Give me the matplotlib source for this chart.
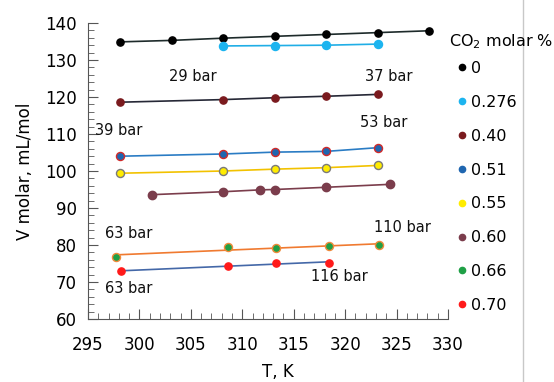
import numpy as np
import matplotlib
matplotlib.use("Agg")
import matplotlib.pyplot as plt
from matplotlib.lines import Line2D
from matplotlib.ticker import MultipleLocator

# ---- data ----
series_labels = ["0", "0.276", "0.40", "0.51", "0.55", "0.60", "0.66", "0.70"]
T_0 = [298.15, 303.15, 308.15, 313.15, 318.15, 323.15, 328.15]
V_0 = [134.9, 135.3, 135.9, 136.4, 136.9, 137.4, 137.9]
T_0276 = [308.15, 313.15, 318.15, 323.15]
V_0276 = [133.8, 133.9, 134.0, 134.3]
T_040 = [298.15, 308.15, 313.15, 318.15, 323.15]
V_040 = [118.6, 119.3, 119.8, 120.2, 120.7]
T_051 = [298.15, 308.15, 313.15, 318.15, 323.15]
V_051 = [104.0, 104.6, 105.1, 105.3, 106.3]
T_055 = [298.15, 308.15, 313.15, 318.15, 323.15]
V_055 = [99.4, 100.0, 100.5, 100.9, 101.5]
T_060 = [301.2, 308.15, 311.7, 313.15, 318.15, 324.4]
V_060 = [93.6, 94.4, 94.9, 95.0, 95.6, 96.4]
T_066 = [297.7, 308.6, 313.3, 318.4, 323.3]
V_066 = [76.8, 79.5, 79.3, 79.6, 80.0]
T_070 = [298.2, 308.6, 313.3, 318.4]
V_070 = [72.9, 74.4, 75.1, 75.2]

annotations = ["29 bar", "37 bar", "39 bar", "53 bar", "63 bar", "63 bar", "110 bar", "116 bar"]
ann_T = [305.2, 324.2, 298.0, 323.7, 299.0, 299.0, 325.6, 319.4]
ann_V = [125.6, 125.6, 111.0, 113.0, 83.2, 68.3, 84.6, 71.5]

# ---- styles ----
styles = [
    dict(mfc="#000000", mec="#000000", lc="#1e2b2b", ms=5.2),
    dict(mfc="#1cb4ef", mec="#1cb4ef", lc="#20aee6", ms=5.8),
    dict(mfc="#7a1a1e", mec="#7a1a1e", lc="#262836", ms=5.2),
    dict(mfc="#1f66b0", mec="#d02a2a", lc="#2a7cc4", ms=5.8),
    dict(mfc="#ffec00", mec="#7a7a7a", lc="#f2c200", ms=5.8),
    dict(mfc="#7b3d4c", mec="#7b3d4c", lc="#7b3d4c", ms=6.0),
    dict(mfc="#1fa046", mec="#f08a3a", lc="#f07a30", ms=5.8),
    dict(mfc="#ff1a1a", mec="#ff1a1a", lc="#4468a8", ms=5.2),
]
Ts = [T_0, T_0276, T_040, T_051, T_055, T_060, T_066, T_070]
Vs = [V_0, V_0276, V_040, V_051, V_055, V_060, V_066, V_070]

fig = plt.figure(figsize=(5.54, 3.82), dpi=100)
ax = fig.add_axes([88/554, (382-319)/382, 360/554, 296/382])

for i, (T, V, st) in enumerate(zip(Ts, Vs, styles)):
    T = np.array(T); V = np.array(V)
    if i >= 6:
        p = np.polyfit(T, V, 1)
        ax.plot([T.min(), T.max()], np.polyval(p, [T.min(), T.max()]), color=st["lc"], lw=1.2, zorder=2)
    else:
        ax.plot(T, V, color=st["lc"], lw=1.2, zorder=2)
    ax.plot(T, V, ls="none", marker="o", ms=st["ms"], mfc=st["mfc"], mec=st["mec"], mew=1.0, zorder=3)

for txt, t, v in zip(annotations, ann_T, ann_V):
    ax.text(t, v, txt, ha="center", va="center", fontsize=10.5, color="#111111")

ax.set_xlim(295, 330)
ax.set_ylim(60, 140)
ax.xaxis.set_major_locator(MultipleLocator(5))
ax.xaxis.set_minor_locator(MultipleLocator(1))
ax.yaxis.set_major_locator(MultipleLocator(10))
ax.yaxis.set_minor_locator(MultipleLocator(2))
for s in ["top", "right"]:
    ax.spines[s].set_visible(False)
for s in ["left", "bottom"]:
    ax.spines[s].set_color("#555555")
ax.tick_params(which="major", direction="in", length=7, color="#555555", labelsize=12, pad=12)
ax.tick_params(which="minor", direction="in", length=4, color="#555555")
ax.tick_params(axis="y", pad=8)
ax.set_xlabel("T, K", fontsize=12, labelpad=8)
ax.xaxis.set_label_coords(0.528, -0.15)
ax.set_ylabel("V molar, mL/mol", fontsize=12, labelpad=8)

fig.text(449/554, 1 - 42/382, "CO$_2$ molar %", fontsize=11.5, ha="left", va="center")

handles = [Line2D([], [], ls="none", marker="o", ms=4.5, mfc=st["mfc"], mec=st["mfc"]) for st in styles]
leg = fig.legend(handles, series_labels, loc="upper left", bbox_to_anchor=(457/554, 1 - 61/382),
                 bbox_transform=fig.transFigure, frameon=False, fontsize=11.5,
                 handlelength=0.6, handletextpad=0.25, labelspacing=1.18, borderaxespad=0,
                 borderpad=0)

fig.add_artist(Line2D([523/554, 523/554], [0, 1], transform=fig.transFigure, color="#c8c8c8", lw=1))

fig.savefig("out.png", dpi=100)
